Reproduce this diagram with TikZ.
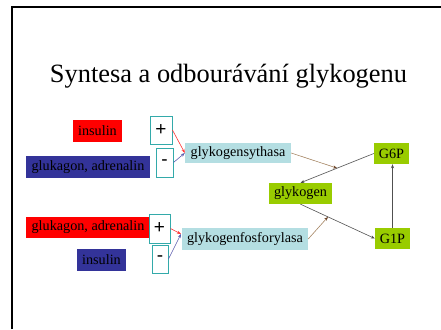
\documentclass[tikz,border=0pt]{standalone}
\usepackage{fontspec}
\setmainfont{Liberation Serif}
\setsansfont{Liberation Sans}
\usepackage{xcolor}
\usetikzlibrary{arrows.meta,calc}
\definecolor{rudy}{HTML}{FF0000}
\definecolor{modry}{HTML}{333399}
\definecolor{svetle}{HTML}{B4DEE2}
\definecolor{zelene}{HTML}{99CC00}
\definecolor{tyrkys}{HTML}{33AAAA}
\definecolor{hneda}{HTML}{A58564}
\definecolor{hnedahrot}{HTML}{6B4226}
\definecolor{seda}{HTML}{505050}
\begin{document}
\begin{tikzpicture}[x=1pt,y=-1pt,>={Stealth[length=4pt,width=3pt]},
box/.style={inner sep=0pt,minimum height=21pt,font=\fontsize{14.2}{16}\selectfont},
znak/.style={draw=tyrkys,line width=0.9pt,fill=white,inner sep=0pt,font=\sffamily\fontsize{19}{19}\selectfont},
sipka/.style={->,line width=0.6pt,seda}]
\useasboundingbox(0,0)rectangle(441,329);
\draw[line width=2pt](11.5,329)--(11.5,7.5)--(441,7.5);
\node[anchor=base,font=\fontsize{26.4}{30}\selectfont](nadpis)at(228.5,82){Syntesa a odbourávání glykogenu};
\node[box,fill=rudy,minimum width=49pt,minimum height=22pt](ins1)at(97.5,131){insulin};
\node[box,fill=modry,minimum width=124pt,minimum height=22pt](glu1)at(88,167){glukagon, adrenalin};
\node[znak,minimum width=22pt,minimum height=28pt](plus1)at(161,130){+};
\node[znak,minimum width=17pt,minimum height=29pt](minus1)at(164.5,162.5){-};
\node[box,fill=svetle,minimum width=106pt,minimum height=20pt](synt)at(238,153){glykogensythasa};
\node[box,fill=rudy,minimum width=124pt](glu2)at(88,227.5){glukagon, adrenalin};
\node[box,fill=modry,minimum width=49pt,minimum height=22pt](ins2)at(101.5,260){insulin};
\node[znak,minimum width=21pt,minimum height=29pt](plus2)at(159.5,228.5){+};
\node[znak,minimum width=16pt,minimum height=28pt](minus2)at(160,259){-};
\node[box,fill=svetle,minimum width=126pt,minimum height=22pt](fosf)at(245,239){glykogenfosforylasa};
\node[box,fill=zelene,minimum width=35pt](g6p)at(391.5,153.5){G6P};
\node[box,fill=zelene,minimum width=63pt](glyk)at(300.5,193.5){glykogen};
\node[box,fill=zelene,minimum width=35pt](g1p)at(392.5,238.5){G1P};
\coordinate(fosfin)at(181,234);
\draw[sipka,rudy!80](plus1.east)--(synt.west);
\draw[sipka,modry!80](minus1.east)--(synt.west);
\draw[sipka,rudy!80](plus2.east)--(fosfin);
\draw[sipka,modry!80](minus2.east)--(fosfin);
\draw[sipka](g6p.west)--(glyk.north)coordinate[pos=0.5](m1);
\draw[sipka](glyk.south)--(g1p.west)coordinate[pos=0.37](m2);
\draw[sipka](g1p.north)--(g1p.north|-g6p.south);
\draw[sipka,hneda,-{Stealth[length=4pt,width=3pt,color=hnedahrot]}](synt.east)--(m1);
\draw[sipka,hneda,-{Stealth[length=4pt,width=3pt,color=hnedahrot]}](fosf.east)--(m2);
\end{tikzpicture}
\end{document}
